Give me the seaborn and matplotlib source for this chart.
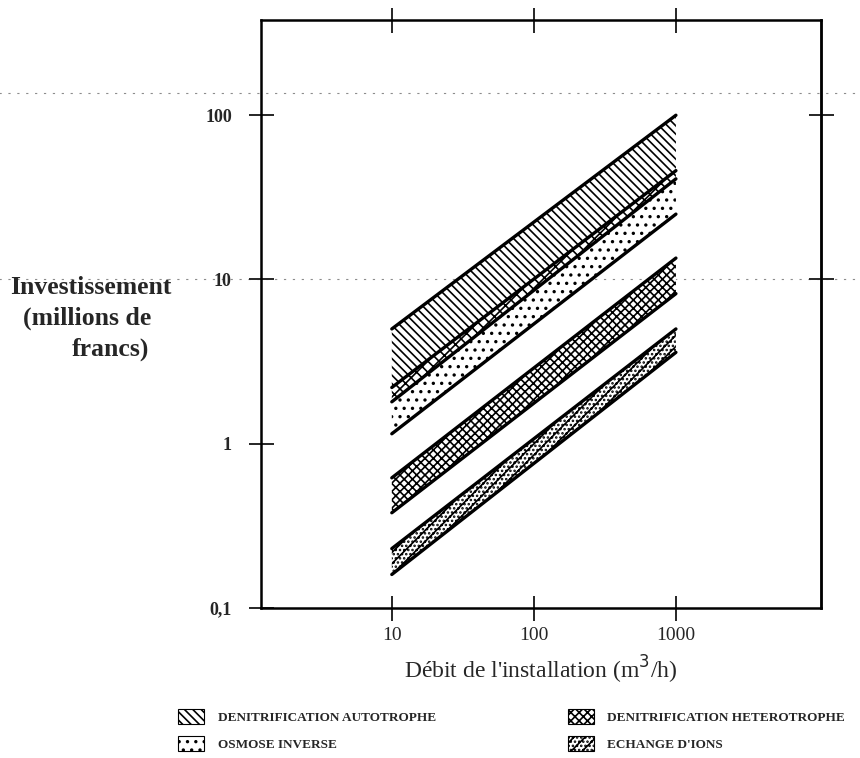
import matplotlib
matplotlib.use("Agg")
import matplotlib.pyplot as plt
import seaborn as sns
import pandas as pd
from matplotlib.patches import Patch
from matplotlib.ticker import NullLocator

# ---- data ----
flow = [10, 1000]                      # m3/h
auto_hi = [5.0, 100.0]                 # dénitrification autotrophe
auto_lo = [2.2, 46.0]
osm_hi = [1.8, 41.0]                   # osmose inverse
osm_lo = [1.15, 25.0]
het_hi = [0.62, 13.5]                  # dénitrification hétérotrophe
het_lo = [0.38, 8.2]
ech_hi = [0.23, 5.0]                   # échange d'ions
ech_lo = [0.16, 3.6]

x_ticks = [10, 100, 1000]
x_ticklabels = ["10", "100", "1000"]
y_ticks = [0.1, 1, 10, 100]
y_ticklabels = ["0,1", "1", "10", "100"]
legend_labels = ["DENITRIFICATION AUTOTROPHE", "OSMOSE INVERSE",
                 "DENITRIFICATION HETEROTROPHE", "ECHANGE D'IONS"]

sns.set_style("ticks")
plt.rcParams["font.family"] = ["Liberation Serif", "DejaVu Serif"]
plt.rcParams["hatch.linewidth"] = 1.2
plt.rcParams["hatch.color"] = "black"

fig = plt.figure(figsize=(8.6, 7.58), dpi=100)
ax = fig.add_axes([261 / 860, 1 - 608 / 758, (821 - 261) / 860, (608 - 20) / 758])
ax.set_xscale("log")
ax.set_yscale("log")

H_AUTO = "\\\\\\\\"
H_ZIG = "xxx"
H_OSM = ".."
H_HET = "xxxx"
H_ECH = "///...."
bands = [
    (auto_lo, auto_hi, H_AUTO),
    (osm_hi, auto_lo, H_ZIG),
    (osm_lo, osm_hi, H_OSM),
    (het_lo, het_hi, H_HET),
    (ech_lo, ech_hi, H_ECH),
]
for lo, hi, h in bands:
    ax.fill_between(flow, lo, hi, facecolor="white", edgecolor="black",
                    hatch=h, linewidth=0)

lines = {"auto_hi": auto_hi, "auto_lo": auto_lo, "osm_hi": osm_hi,
         "osm_lo": osm_lo, "het_hi": het_hi, "het_lo": het_lo,
         "ech_hi": ech_hi, "ech_lo": ech_lo}
df = pd.DataFrame([{"flow": f, "value": v, "line": k}
                   for k, vals in lines.items() for f, v in zip(flow, vals)])
sns.lineplot(data=df, x="flow", y="value", units="line", estimator=None,
             color="black", linewidth=2.4, ax=ax, legend=False)

ax.set_xlim(1.2, 10500)
ax.set_ylim(0.1, 380)
ax.set_xticks(x_ticks, x_ticklabels, fontsize=14)
ax.set_yticks(y_ticks, y_ticklabels, fontsize=13, fontweight="bold")
ax.xaxis.set_minor_locator(NullLocator())
ax.yaxis.set_minor_locator(NullLocator())
ax.tick_params(axis="x", which="major", direction="inout", length=18,
               width=1.4, top=True, pad=5)
ax.tick_params(axis="y", which="major", direction="inout", length=18,
               width=1.4, pad=12)
sec = ax.secondary_yaxis("right")
sec.set_yticks([10, 100])
sec.set_yticklabels([])
sec.yaxis.set_minor_locator(NullLocator())
sec.tick_params(direction="inout", length=18, width=1.4)
sec.spines["right"].set_linewidth(1.8)
for s in ax.spines.values():
    s.set_linewidth(1.8)
    s.set_color("black")

ax.set_xlabel("Débit de l'installation (m$^3$/h)", fontsize=17, labelpad=7)
ax.set_ylabel("")

# scan guide lines (faint)
for yv in [137, 10]:
    ax.axhline(yv, xmin=-0.47, xmax=1.07, color="0.55", linestyle=(0, (2, 6)),
               linewidth=0.8, clip_on=False, zorder=0)

fig.text(10 / 860, 1 - 287 / 758, "Investissement", fontsize=18.5,
         fontweight="bold", ha="left", va="center")
fig.text(23 / 860, 1 - 318 / 758, "(millions de", fontsize=18.5,
         fontweight="bold", ha="left", va="center")
fig.text(72 / 860, 1 - 349 / 758, "francs)", fontsize=18.5,
         fontweight="bold", ha="left", va="center")

handles = [Patch(facecolor="white", edgecolor="black", hatch=h, linewidth=0.8)
           for h in [H_AUTO, H_OSM, H_HET, H_ECH]]
fig.legend(handles, legend_labels, loc="upper left",
           bbox_to_anchor=(178 / 860, 1 - 709 / 758), ncol=2, frameon=False,
           prop={"size": 9.5, "weight": "bold"}, handlelength=2.0,
           handleheight=1.4, labelspacing=0.9, columnspacing=10.0,
           handletextpad=1.0, borderpad=0, borderaxespad=0)

fig.savefig("out.png", dpi=100)
